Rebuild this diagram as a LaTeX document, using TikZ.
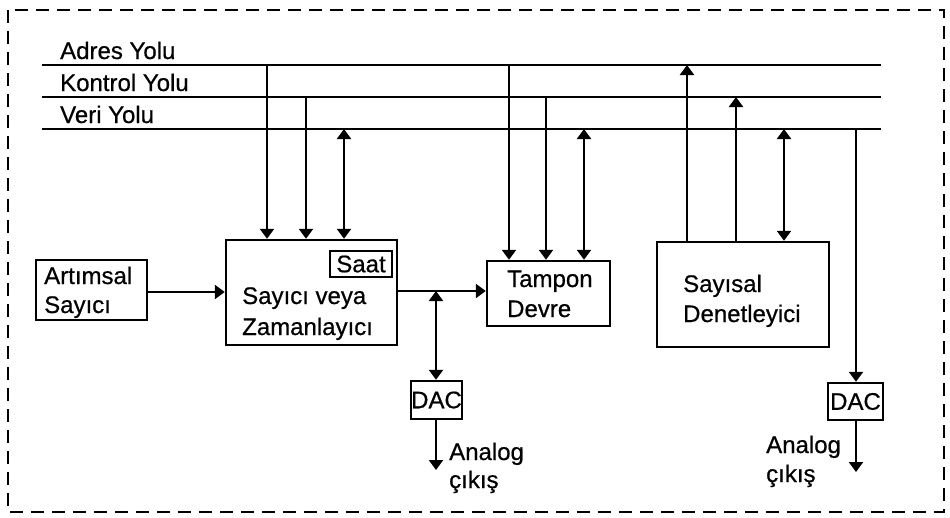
\documentclass[tikz,border=0pt]{standalone}
\usepackage{fontspec}
\setmainfont{Liberation Sans}[FakeBold=0.6]
\usetikzlibrary{arrows.meta}
\begin{document}
\begin{tikzpicture}[x=1pt,y=-1pt,
  txt/.style={inner sep=0pt,font=\fontsize{24}{28}\selectfont},
  box/.style={draw,line width=2.4pt,inner sep=0pt,rectangle},
  bus/.style={line width=2.2pt},
  wire/.style={line width=2.2pt},
  tip/.style={-{Triangle[width=14pt,length=10pt]}},
  dtip/.style={{Triangle[width=14pt,length=10pt]}-{Triangle[width=14pt,length=10pt]}}]
\useasboundingbox (0,0) rectangle (950,517);

% outer dashed frame
\draw[line width=2.6pt,dash pattern=on 13pt off 8pt] (8,10) rectangle (944,512);

% bus lines
\coordinate (adrL) at (42,65);  \coordinate (adrR) at (881,65);
\coordinate (konL) at (42,97);  \coordinate (konR) at (881,97);
\coordinate (verL) at (42,129); \coordinate (verR) at (881,129);
\draw[bus] (adrL) -- (adrR);
\draw[bus] (konL) -- (konR);
\draw[bus] (verL) -- (verR);
\node[txt,anchor=base west] (lAdr) at (60,59) {Adres Yolu};
\node[txt,anchor=base west] (lKon) at (60,91) {Kontrol Yolu};
\node[txt,anchor=base west] (lVer) at (60,123) {Veri Yolu};

% blocks
\node[box,minimum width=111pt,minimum height=60pt] (art) at (91.5,290) {};
\node[box,minimum width=171pt,minimum height=105pt] (say) at (311.5,292.5) {};
\node[box,line width=2pt,minimum width=62pt,minimum height=26pt] (saat) at (361,264) {};
\node[box,minimum width=123pt,minimum height=65pt] (tam) at (548.5,293.5) {};
\node[box,minimum width=172pt,minimum height=105pt] (den) at (743,294.5) {};
\node[box,minimum width=51pt,minimum height=38pt] (dacL) at (436.5,400) {};
\node[box,minimum width=55pt,minimum height=37pt] (dacR) at (855.5,401.5) {};

% block texts
\node[txt,anchor=base west] (tArt1) at (44,284) {Artımsal};
\node[txt,anchor=base west] (tArt2) at (44,313) {Sayıcı};
\node[txt,anchor=base west] (tSay1) at (242,304) {Sayıcı veya};
\node[txt,anchor=base west] (tSay2) at (242,335) {Zamanlayıcı};
\node[txt] (tSaat) at (saat.center) {Saat};
\node[txt,anchor=base west] (tTam1) at (507,287) {Tampon};
\node[txt,anchor=base west] (tTam2) at (507,317) {Devre};
\node[txt,anchor=base west] (tDen1) at (683,292) {Sayısal};
\node[txt,anchor=base west] (tDen2) at (683,322) {Denetleyici};
\node[txt] (tDacL) at (dacL.center) {DAC};
\node[txt] (tDacR) at (dacR.center) {DAC};
\node[txt,anchor=base west] (tOutL1) at (449,460) {Analog};
\node[txt,anchor=base west] (tOutL2) at (449,488) {çıkış};
\node[txt,anchor=base west] (tOutR1) at (766,453) {Analog};
\node[txt,anchor=base west] (tOutR2) at (766,482) {çıkış};

% bus taps
\coordinate (s1) at (267,65);  \coordinate (s2) at (306,97);  \coordinate (s3) at (344,129);
\coordinate (b1) at (509,65);  \coordinate (b2) at (546,97);  \coordinate (b3) at (584,129);
\coordinate (d1) at (687,65);  \coordinate (d2) at (736,97);  \coordinate (d3) at (784,129);
\coordinate (v4) at (856,129);

\draw[wire,tip] (s1) -- (s1 |- say.north);
\draw[wire,tip] (s2) -- (s2 |- say.north);
\draw[wire,dtip] (s3) -- (s3 |- say.north);
\draw[wire,tip] (b1) -- (b1 |- tam.north);
\draw[wire,tip] (b2) -- (b2 |- tam.north);
\draw[wire,dtip] (b3) -- (b3 |- tam.north);
\draw[wire,tip] (d1 |- den.north) -- (d1);
\draw[wire,tip] (d2 |- den.north) -- (d2);
\draw[wire,dtip] (d3) -- (d3 |- den.north);
\draw[wire,tip] (v4) -- (v4 |- dacR.north);

% horizontal signal path
\coordinate (jn) at (436,291);
\draw[wire,tip] (art.east |- 0,292) -- (say.west |- 0,292);
\draw[wire,tip] (say.east |- jn) -- (tam.west |- jn);
\draw[wire,dtip] (jn) -- (jn |- dacL.north);

% analog outputs
\coordinate (oL) at (436,470);
\coordinate (oR) at (856,472);
\draw[wire,tip] (oL |- dacL.south) -- (oL);
\draw[wire,tip] (oR |- dacR.south) -- (oR);
\end{tikzpicture}
\end{document}
